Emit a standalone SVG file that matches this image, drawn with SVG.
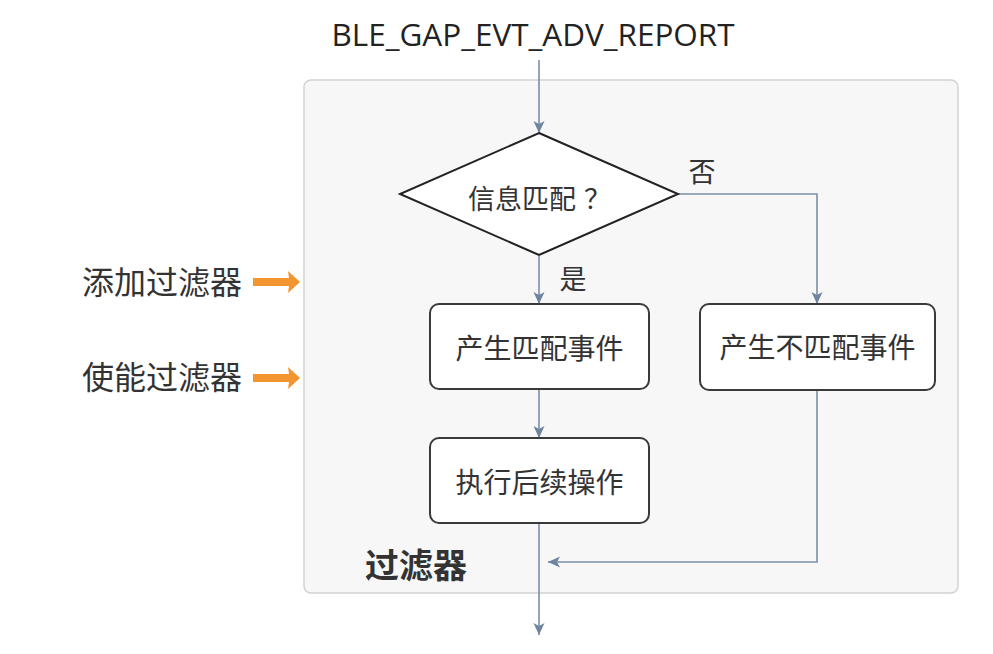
<svg xmlns="http://www.w3.org/2000/svg" width="993" height="654" viewBox="0 0 993 654">
<defs>
<style>
.cjk{font-family:"Noto Sans CJK SC","Noto Sans",sans-serif;fill:#333;}
.node{fill:#ffffff;stroke:#3a3a3a;stroke-width:2;}
.conn{fill:none;stroke:#7b8ea8;stroke-width:1.6;}
.orange{fill:#f3952f;}
</style>
<marker id="ah" markerUnits="userSpaceOnUse" markerWidth="14" markerHeight="14" viewBox="0 0 14 14" refX="13" refY="7" orient="auto">
<path d="M1,1.5 L13,7 L1,12.5 L4,7 z" fill="#6f84a0"/>
</marker>
<path id="oarrow" d="M0,-4 L36,-4 L35,-11 L47,0 L35,11 L36,4 L0,4 z"/>
</defs>
<rect width="993" height="654" fill="#ffffff"/>

<g id="container">
<rect x="304" y="80" width="654" height="513" rx="7" fill="#f7f7f7" stroke="#d2d2d2" stroke-width="1.5"/>
<text x="365" y="578" class="cjk" font-size="34" font-weight="bold">过滤器</text>
</g>

<g id="title">
<text x="533" y="46" text-anchor="middle" font-family="Open Sans, Liberation Sans, sans-serif" font-size="31" fill="#222" textLength="403" lengthAdjust="spacingAndGlyphs">BLE_GAP_EVT_ADV_REPORT</text>
</g>

<g id="add-filter">
<text x="82" y="294" class="cjk" font-size="32">添加过滤器</text>
<use href="#oarrow" x="253" y="282" class="orange"/>
</g>
<g id="enable-filter">
<text x="82" y="389" class="cjk" font-size="32">使能过滤器</text>
<use href="#oarrow" x="253" y="378" class="orange"/>
</g>

<g id="connectors">
<line x1="539" y1="60" x2="539" y2="133" class="conn" marker-end="url(#ah)"/>
<line x1="539" y1="255" x2="539" y2="304" class="conn" marker-end="url(#ah)"/>
<polyline points="678,194 817,194 817,304" class="conn" marker-end="url(#ah)"/>
<line x1="539" y1="389" x2="539" y2="438" class="conn" marker-end="url(#ah)"/>
<line x1="539" y1="523" x2="539" y2="635" class="conn" marker-end="url(#ah)"/>
<polyline points="817,390 817,562 548,562" class="conn" marker-end="url(#ah)"/>
<text x="702" y="182" class="cjk" font-size="27" text-anchor="middle">否</text>
<text x="573" y="289" class="cjk" font-size="27" text-anchor="middle">是</text>
</g>

<g id="decision">
<polygon points="539,133 678,194 539,255 400,194" fill="#ffffff" stroke="#222" stroke-width="2"/>
<text x="468" y="209" class="cjk" font-size="27">信息匹配<tspan x="584">？</tspan></text>
</g>

<g id="match-event">
<rect x="430" y="304" width="219" height="85" rx="9" class="node"/>
<text x="539.5" y="359" class="cjk" font-size="28" text-anchor="middle">产生匹配事件</text>
</g>

<g id="nomatch-event">
<rect x="700" y="304" width="235" height="86" rx="9" class="node"/>
<text x="817.5" y="358" class="cjk" font-size="28" text-anchor="middle">产生不匹配事件</text>
</g>

<g id="follow-up">
<rect x="430" y="438" width="219" height="85" rx="9" class="node"/>
<text x="539.5" y="493" class="cjk" font-size="28" text-anchor="middle">执行后续操作</text>
</g>
</svg>
